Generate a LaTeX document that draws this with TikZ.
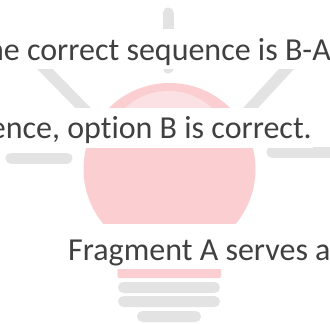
\documentclass[tikz,border=0pt]{standalone}
\usepackage{fontspec}
\setmainfont[Ligatures=NoCommon]{Carlito}
\definecolor{raygray}{HTML}{E3E3E3}
\definecolor{bulbpink}{HTML}{FBCFD1}
\definecolor{bulbglow}{HTML}{FBE1E3}
\definecolor{txtgray}{HTML}{404040}
\tikzset{
  ray/.style={draw=raygray,line width=11pt,line cap=round},
  bar/.style={fill=raygray,rounded corners=5.5pt},
  band/.style={fill=white},
  caption/.style={text=txtgray,font=\fontsize{32}{38}\selectfont,inner sep=0pt}
}
\begin{document}
\begin{tikzpicture}[x=1pt,y=-1pt]
\useasboundingbox (0,0) rectangle (330,324);
\clip (0,0) rectangle (330,324);
\fill[white] (0,0) rectangle (330,324);
% rays
\draw[ray] (168,13) -- (168,68);
\draw[ray] (40,64) -- (88,113);
\draw[ray] (292,63) -- (246,113);
\draw[ray] (11,158) -- (67,158);
\draw[ray] (272,152) -- (340,152);
% bulb
\fill[bulbpink] (169.5,169) circle (86);
\begin{scope}
\clip (100,80) rectangle (240,108);
\fill[bulbglow] (168.5,155) circle (64);
\end{scope}
\fill[bulbpink,rounded corners=1.5pt] (117.5,262) rectangle (221,278);
% bands hiding the drawing behind the text
\fill[band] (0,29) rectangle (330,69);
\fill[band] (0,108) rectangle (313,148);
\fill[band] (0,224) rectangle (330,269);
% base bars
\fill[bar] (118,282) rectangle (220,293);
\fill[bar] (118,296) rectangle (220,307);
\fill[bar] (137,311) rectangle (201,322);
% text
\node[caption,anchor=base east] (t1) at (331,60) {The correct sequence is B-A};
\node[caption,anchor=base east] (t2) at (312,138) {Hence, option B is correct.};
\node[caption,anchor=base west] (t3) at (68,260) {Fragment A serves a};
\end{tikzpicture}
\end{document}
